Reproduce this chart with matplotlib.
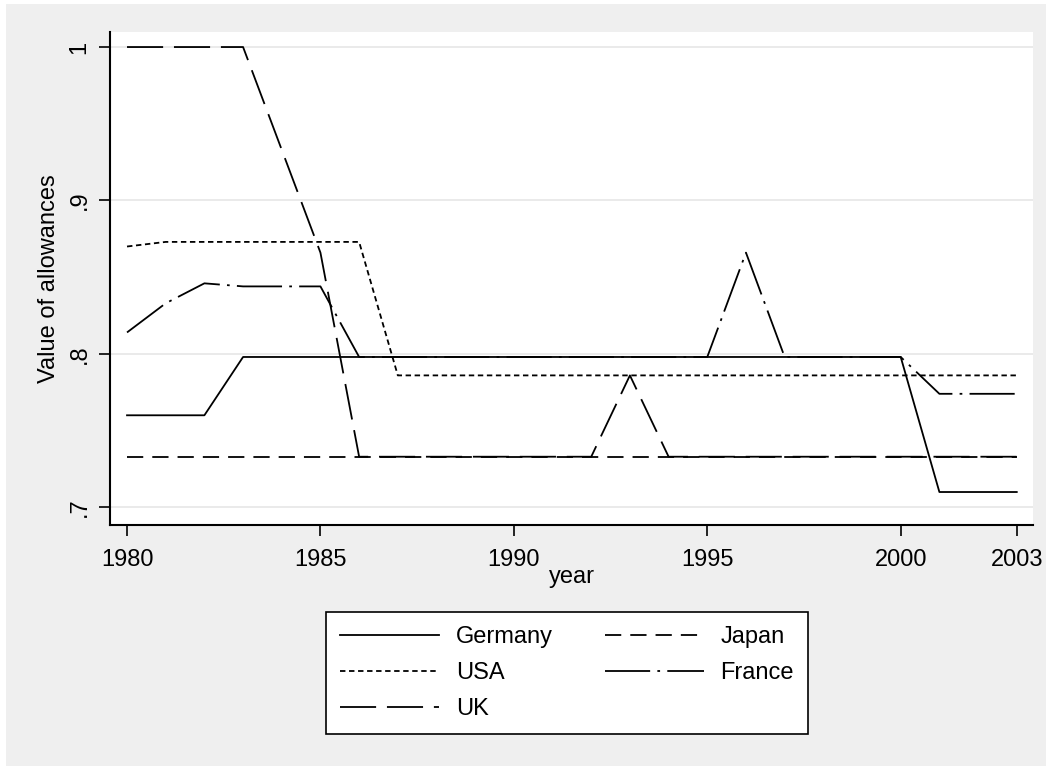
import matplotlib
matplotlib.use("Agg")
import matplotlib.pyplot as plt
from matplotlib.patches import Rectangle

plt.rcParams['font.family'] = ['Liberation Sans', 'DejaVu Sans']

# data
years = list(range(1980, 2004))
germany = [0.760] * 3 + [0.798] * 18 + [0.710] * 3
japan = [0.733] * 24
usa = [0.870] + [0.873] * 6 + [0.786] * 17
france = ([0.814, 0.833, 0.846, 0.844, 0.844, 0.844]
          + [0.798] * 10 + [0.866] + [0.798] * 4 + [0.774] * 3)
uk = ([1.0, 1.0, 1.0, 1.0, 0.933, 0.866]
      + [0.733] * 7 + [0.786] + [0.733] * 10)

xticks = [1980, 1985, 1990, 1995, 2000, 2003]
yticks = [0.7, 0.8, 0.9, 1.0]
ytick_labels = ['.7', '.8', '.9', '1']

W, H = 1046, 766
fig = plt.figure(figsize=(W / 100, H / 100), dpi=100)
fig.patch.set_facecolor('white')
fig.patches.append(Rectangle((6 / W, 0), 1, 1 - 4 / H, transform=fig.transFigure,
                             facecolor='#efefef', edgecolor='none', zorder=-10))

ax = fig.add_axes([110 / W, 1 - 525 / H, (1033 - 110) / W, (525 - 32) / H])
ax.set_facecolor('white')

lw = 1.3
h_ger, = ax.plot(years, germany, color='black', lw=lw, linestyle='-', label='Germany')
h_jap, = ax.plot(years, japan, color='black', lw=lw, linestyle=(0, (9, 5)), label='Japan')
h_usa, = ax.plot(years, usa, color='black', lw=lw, linestyle=(0, (3, 2)), label='USA')
h_fra, = ax.plot(years, france, color='black', lw=lw,
                 linestyle=(0, (25, 4, 1.5, 4)), label='France')
h_uk, = ax.plot(years, uk, color='black', lw=lw, linestyle=(0, (20, 6)), label='UK')

ax.set_xlim(1979.56, 2003.42)
ax.set_ylim(0.6885, 1.0098)
ax.set_xticks(xticks)
ax.set_yticks(yticks)
ax.set_yticklabels(ytick_labels, rotation=90, va='center')
ax.tick_params(axis='both', length=8, width=1.2, labelsize=17, color='black')
ax.tick_params(axis='x', pad=9)
ax.tick_params(axis='y', pad=6)
ax.grid(axis='y', color='#e6e6e6', lw=1.2)
ax.set_axisbelow(True)

for side in ['top', 'right']:
    ax.spines[side].set_visible(False)
for side in ['left', 'bottom']:
    ax.spines[side].set_linewidth(1.5)

ax.set_xlabel('year', fontsize=17, labelpad=-3)
ax.set_ylabel('Value of allowances', fontsize=17, labelpad=6)

# legend fills column-wise, so reorder to read row-wise
leg = fig.legend([h_ger, h_usa, h_uk, h_jap, h_fra],
                 ['Germany', 'USA', 'UK', 'Japan', 'France'],
                 ncol=2, loc='center', bbox_to_anchor=(567 / W, 1 - 673 / H),
                 fontsize=17, handlelength=4.2, handletextpad=0.7,
                 columnspacing=2.2, labelspacing=0.6, fancybox=False,
                 borderpad=0.6, borderaxespad=0)
leg.get_frame().set_edgecolor('black')
leg.get_frame().set_linewidth(1.2)
leg.get_frame().set_facecolor('white')
leg.get_frame().set_alpha(1)

fig.savefig('out.png', dpi=100, facecolor=fig.get_facecolor())
